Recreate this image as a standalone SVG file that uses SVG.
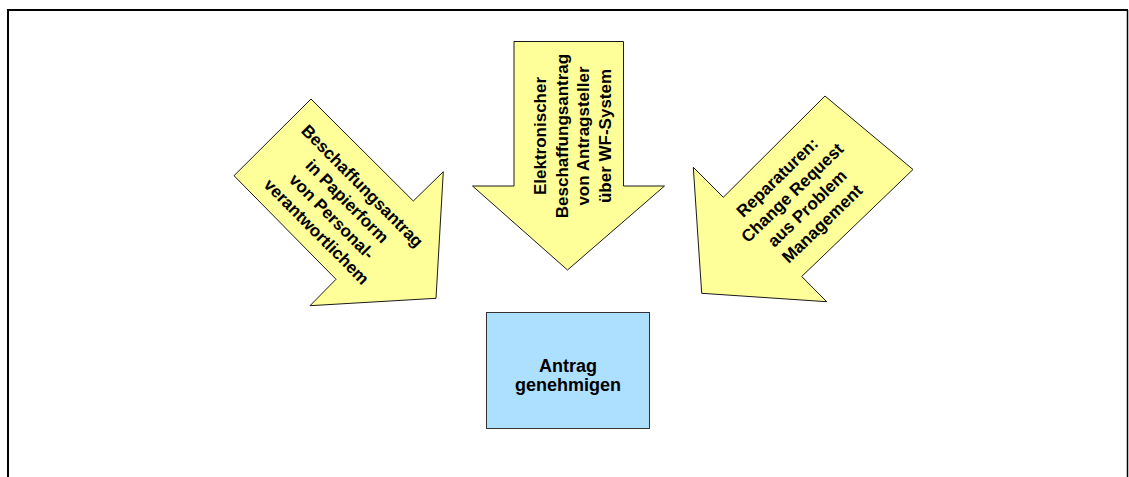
<svg xmlns="http://www.w3.org/2000/svg" width="1129" height="477" viewBox="0 0 1129 477">
  <style>
    .arrow { fill: #FFFF99; stroke: #1a1a1a; stroke-width: 1; stroke-linejoin: miter; }
    .box { fill: #ADDFFF; stroke: #333333; stroke-width: 1; }
    .lbl { font-family: "Liberation Sans", Arial, sans-serif; font-weight: bold; font-size: 17px; fill: #000000; text-anchor: middle; }
    .big { font-size: 18px; }
    .frame { fill: none; stroke: #000000; }
  </style>
  <rect x="0" y="0" width="1129" height="477" fill="#ffffff"/>

  <!-- outer frame (open at the bottom) -->
  <path class="frame" stroke-width="2" d="M8,477 V10 H1128"/>
  <path class="frame" stroke-width="1.5" d="M1127.5,10 V477"/>

  <g id="connectors">
    <!-- paper request arrow, pointing down-right -->
    <g id="arrow-paper">
      <polygon class="arrow" points="311,99 234,175.7 336,279.3 310,305.7 436,298.3 443.3,171.7 413.3,201"/>
      <g transform="translate(339.6,208.7) rotate(45.2)">
        <text class="lbl" x="0" y="-26.3">Beschaffungsantrag</text>
        <text class="lbl" x="0" y="-4.8">in Papierform</text>
        <text class="lbl" x="0" y="16.8">von Personal-</text>
        <text class="lbl" x="0" y="38.3">verantwortlichem</text>
      </g>
    </g>

    <!-- electronic request arrow, pointing down -->
    <g id="arrow-electronic">
      <polygon class="arrow" points="514,41.5 623.5,41.5 623.5,186 664.5,186 567.5,270 472.5,186 514,186"/>
      <g transform="translate(572.5,136) rotate(-90)">
        <text class="lbl" x="0" y="-26.3">Elektronischer</text>
        <text class="lbl" x="0" y="-4.8">Beschaffungsantrag</text>
        <text class="lbl" x="0" y="16.8">von Antragsteller</text>
        <text class="lbl" x="0" y="38.3">über WF-System</text>
      </g>
    </g>

    <!-- repair / change request arrow, pointing down-left -->
    <g id="arrow-repair">
      <polygon class="arrow" points="825,96 913,169.5 801.7,276.5 826.7,301.7 701.7,293.3 693.3,167.3 723.3,197.3"/>
      <g transform="translate(799.6,200.4) rotate(-44)">
        <text class="lbl" x="0" y="-26.3">Reparaturen:</text>
        <text class="lbl" x="0" y="-4.8">Change Request</text>
        <text class="lbl" x="0" y="16.8">aus Problem</text>
        <text class="lbl" x="0" y="38.3">Management</text>
      </g>
    </g>
  </g>

  <!-- approval step -->
  <g id="node-approve">
    <rect class="box" x="486.5" y="312.5" width="163" height="116"/>
    <text class="lbl big" x="568" y="371.5">Antrag</text>
    <text class="lbl big" x="568" y="391">genehmigen</text>
  </g>
</svg>
